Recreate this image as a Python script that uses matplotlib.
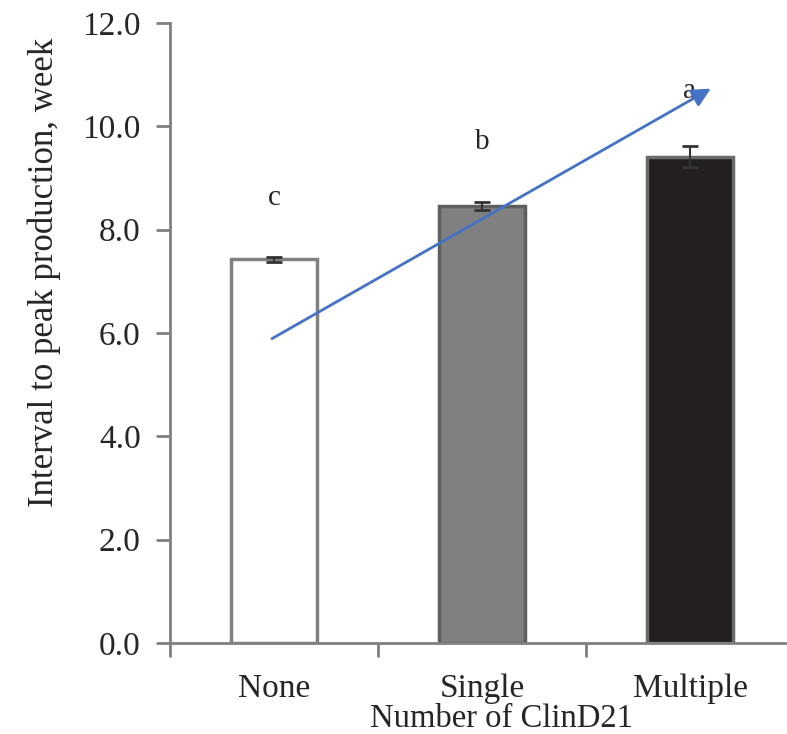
import matplotlib
matplotlib.use("Agg")
from matplotlib import pyplot as plt

# data
groups = ["None", "Single", "Multiple"]
weeks = [7.43, 8.46, 9.41]
errors = [0.05, 0.08, 0.20]
letters = ["c", "b", "a"]
letter_y = [8.62, 9.70, 10.68]
trend_start = (-0.01, 5.89)
trend_end = (2.10, 10.73)

face_colors = ["white", "#808080", "#231f20"]
edge_colors = ["#808080", "#5f5f5f", "#6a6a6a"]
axis_color = "#808080"
text_color = "#262626"

plt.rcParams["font.family"] = ["Liberation Serif", "DejaVu Serif"]

fig = plt.figure(figsize=(7.87, 7.34), dpi=100)
ax = fig.add_axes([170 / 787, 91 / 734, 624 / 787, 620 / 734])

xs = list(range(len(groups)))
ax.bar(xs, weeks, width=0.41, color=face_colors, edgecolor=edge_colors,
       linewidth=2.5, zorder=2)
# error bars: the lower half hides inside the bars
ax.errorbar(xs, weeks, yerr=errors, fmt="none", ecolor="#333333",
            elinewidth=1.5, capsize=6, capthick=2, zorder=3)

for x, t, y in zip(xs, letters, letter_y):
    ax.text(x, y, t, ha="center", va="center", fontsize=21, color=text_color)

ax.annotate("", xy=trend_end, xytext=trend_start,
            arrowprops=dict(arrowstyle="-|>", color="#4472c4", lw=2,
                            mutation_scale=28, shrinkA=0, shrinkB=0),
            zorder=4)

ax.set_xlim(-0.5, 2.5)
ax.set_ylim(0, 12)
ax.set_yticks([0, 2, 4, 6, 8, 10, 12])
ax.set_yticklabels(["%.1f" % v for v in [0, 2, 4, 6, 8, 10, 12]])
ax.set_xticks(xs)
ax.set_xticklabels(groups)
ax.set_xticks([-0.5, 0.5, 1.5, 2.5], minor=True)
ax.tick_params(axis="x", which="major", length=0, pad=22, labelsize=24,
               labelcolor=text_color)
ax.tick_params(axis="x", which="minor", length=10, width=2, color=axis_color)
ax.tick_params(axis="y", length=10, width=2, color=axis_color, pad=11,
               labelsize=24, labelcolor=text_color)

for side in ["top", "right"]:
    ax.spines[side].set_visible(False)
for side in ["left", "bottom"]:
    ax.spines[side].set_color(axis_color)
    ax.spines[side].set_linewidth(2)

ax.set_ylabel("Interval to peak production, week", fontsize=25,
              color=text_color)
ax.yaxis.set_label_coords(-0.174, 0.598)
ax.set_xlabel("Number of ClinD21", fontsize=23.5, color=text_color)
ax.xaxis.set_label_coords(0.532, -0.097)

fig.savefig("out.png", dpi=100)
